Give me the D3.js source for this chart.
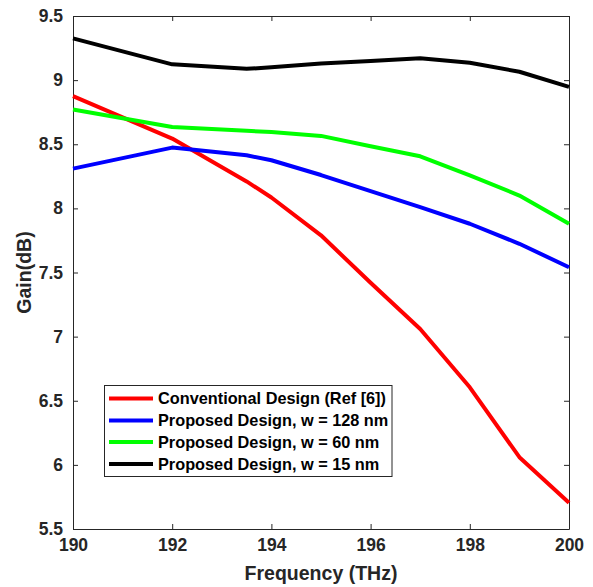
<!DOCTYPE html>
<html><head><meta charset="utf-8">
<script src="https://cdn.jsdelivr.net/npm/d3@7"></script>
<style>body{margin:0;background:#fff}svg{display:block}text{font-family:"Liberation Sans",Arial,sans-serif;font-weight:bold}</style>
</head><body>
<script>
const freq = [190, 192, 193.5, 194, 195, 196, 197, 198, 199, 200];
const conventional = [8.875, 8.544, 8.21, 8.085, 7.79, 7.42, 7.06, 6.605, 6.06, 5.705];
const w128 = [8.31, 8.474, 8.414, 8.375, 8.26, 8.135, 8.01, 7.88, 7.724, 7.541];
const w60 = [8.771, 8.635, 8.605, 8.595, 8.565, 8.485, 8.406, 8.258, 8.10, 7.88];
const w15 = [9.326, 9.123, 9.088, 9.10, 9.13, 9.15, 9.17, 9.135, 9.065, 8.948];
const seriesNames = ["Conventional Design (Ref [6])", "Proposed Design, w = 128 nm", "Proposed Design, w = 60 nm", "Proposed Design, w = 15 nm"];
const seriesColors = ["#ff0000", "#0000ff", "#00ff00", "#000000"];
const xTicks = [190, 192, 194, 196, 198, 200];
const yTicks = [5.5, 6, 6.5, 7, 7.5, 8, 8.5, 9, 9.5];

const W = 593, H = 587;
const L = 73, R = 569, T = 16, B = 529;
const svg = d3.select("body").append("svg").attr("width", W).attr("height", H);
const x = d3.scaleLinear().domain([190, 200]).range([L, R]);
const y = d3.scaleLinear().domain([5.5, 9.5]).range([B, T]);
const axisColor = "#262626";

// axes
const gx = svg.append("g").attr("transform", `translate(0,${B})`)
  .call(d3.axisBottom(x).tickValues(xTicks).tickSizeInner(-5).tickSizeOuter(0).tickPadding(10).tickFormat(d3.format("d")));
const gxt = svg.append("g").attr("transform", `translate(0,${T})`)
  .call(d3.axisTop(x).tickValues(xTicks).tickSizeInner(-5).tickSizeOuter(0).tickFormat(""));
const gy = svg.append("g").attr("transform", `translate(${L},0)`)
  .call(d3.axisLeft(y).tickValues(yTicks).tickSizeInner(-5).tickSizeOuter(0).tickPadding(10).tickFormat(d => String(d)));
const gyr = svg.append("g").attr("transform", `translate(${R},0)`)
  .call(d3.axisRight(y).tickValues(yTicks).tickSizeInner(-5).tickSizeOuter(0).tickFormat(""));
[gx, gxt, gy, gyr].forEach(g => {
  g.select(".domain").attr("stroke", axisColor).attr("stroke-width", 1);
  g.selectAll(".tick line").attr("stroke", axisColor);
  g.selectAll("text").attr("fill", axisColor).style("font-size", "17.5px").style("font-weight", "bold").style("font-family", '"Liberation Sans",Arial,sans-serif');
});

// lines
const allSeries = [conventional, w128, w60, w15];
const line = d3.line().x((d, i) => x(freq[i])).y(d => y(d));
allSeries.forEach((s, k) => {
  svg.append("path").datum(s).attr("d", line).attr("fill", "none")
    .attr("stroke", seriesColors[k]).attr("stroke-width", 4).attr("stroke-linejoin", "round");
});

// axis labels
svg.append("text").attr("x", 321).attr("y", 580).attr("text-anchor", "middle")
  .attr("fill", axisColor).style("font-size", "19.5px").text("Frequency (THz)");
svg.append("text").attr("transform", `translate(31,${(T + B) / 2}) rotate(-90)`).attr("text-anchor", "middle")
  .attr("fill", axisColor).style("font-size", "19.5px").text("Gain(dB)");

// legend
const lg = svg.append("g");
lg.append("rect").attr("x", 104.5).attr("y", 385.5).attr("width", 287.5).attr("height", 91)
  .attr("fill", "#fff").attr("stroke", axisColor).attr("stroke-width", 1);
const rowsY = [398.5, 420.5, 442, 464];
seriesNames.forEach((n, k) => {
  lg.append("line").attr("x1", 109).attr("x2", 153).attr("y1", rowsY[k]).attr("y2", rowsY[k])
    .attr("stroke", seriesColors[k]).attr("stroke-width", 4);
  lg.append("text").attr("x", 158).attr("y", rowsY[k]).attr("dy", "0.35em")
    .attr("fill", "#000").style("font-size", "16.3px").text(n);
});
</script>
</body></html>
